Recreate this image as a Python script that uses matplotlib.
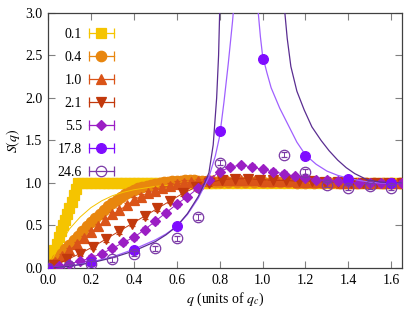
import numpy as np
import matplotlib
matplotlib.use('Agg')
import matplotlib.pyplot as plt
from matplotlib.lines import Line2D
from matplotlib.legend_handler import HandlerLine2D, HandlerTuple

plt.rcParams['font.family'] = ['Liberation Serif', 'DejaVu Serif']
plt.rcParams['mathtext.fontset'] = 'stix'
plt.rcParams['font.size'] = 10

# ---------------- data ----------------
labels = ['0.1', '0.4', '1.0', '2.1', '5.5', '17.8', '24.6']
colors = ['#f5c400', '#e8860e', '#da5418', '#c2390c', '#9b1ec4', '#7f0cff', '#7b3aa6']

# 0.1 (squares)
q_a = [0.00, 0.01, 0.02, 0.03, 0.04, 0.05, 0.06, 0.07, 0.08, 0.09, 0.10, 0.11, 0.12, 0.13, 0.14,
       0.16, 0.18, 0.20, 0.22, 0.24, 0.26, 0.28, 0.30, 0.32, 0.34, 0.36, 0.38, 0.40, 0.42, 0.44,
       0.46, 0.48, 0.50, 0.52, 0.54, 0.56, 0.58, 0.60, 0.62, 0.64, 0.66, 0.68, 0.70, 0.72, 0.74,
       0.76, 0.78, 0.80, 0.84, 0.88, 0.92, 0.96, 1.00, 1.04, 1.08, 1.12, 1.16, 1.20, 1.24, 1.28,
       1.32, 1.36, 1.40, 1.44, 1.48, 1.52, 1.56, 1.60, 1.64]
s_a = [0.00, 0.07, 0.14, 0.21, 0.28, 0.36, 0.43, 0.50, 0.57, 0.64, 0.71, 0.78, 0.86, 0.93, 1.00,
       1.00, 1.00, 1.00, 1.00, 1.00, 1.00, 1.00, 1.00, 1.00, 1.00, 1.00, 1.00, 1.00, 1.00, 1.00,
       1.00, 1.00, 1.00, 1.00, 1.00, 1.00, 1.00, 1.00, 1.00, 1.00, 1.00, 1.00, 1.00, 1.00, 1.00,
       1.00, 1.00, 1.00, 1.00, 1.00, 1.00, 1.00, 1.00, 1.00, 1.00, 1.00, 1.00, 1.00, 1.00, 1.00,
       1.00, 1.00, 1.00, 1.00, 1.00, 1.00, 1.00, 1.00, 1.00]

# 0.4 (circles)
q_b = [0.00, 0.02, 0.04, 0.06, 0.08, 0.10, 0.12, 0.14, 0.16, 0.18, 0.20, 0.22, 0.24, 0.26, 0.28,
       0.30, 0.32, 0.34, 0.36, 0.38, 0.40, 0.42, 0.44, 0.46, 0.48, 0.50, 0.52, 0.54, 0.56, 0.58,
       0.60, 0.62, 0.64, 0.66, 0.68, 0.70, 0.72, 0.74, 0.76, 0.78, 0.80, 0.84, 0.88, 0.92, 0.96,
       1.00, 1.04, 1.08, 1.12, 1.16, 1.20, 1.24, 1.28, 1.32, 1.36, 1.40, 1.44, 1.48, 1.52, 1.56,
       1.60, 1.64]
s_b = [0.00, 0.05, 0.11, 0.16, 0.22, 0.27, 0.33, 0.38, 0.43, 0.49, 0.54, 0.59, 0.64, 0.68, 0.73,
       0.77, 0.80, 0.84, 0.87, 0.89, 0.92, 0.94, 0.95, 0.97, 0.98, 0.99, 1.00, 1.01, 1.01, 1.02,
       1.02, 1.02, 1.03, 1.03, 1.03, 1.02, 1.02, 1.02, 1.02, 1.01, 1.01, 1.01, 1.01, 1.01, 1.01,
       1.01, 1.01, 1.01, 1.01, 1.00, 1.00, 1.00, 1.00, 1.00, 1.00, 1.00, 1.00, 1.00, 1.00, 1.00,
       1.00, 1.00]

# 1.0 (up triangles)
q_c = [0.033, 0.067, 0.100, 0.133, 0.167, 0.200, 0.233, 0.267, 0.300, 0.333, 0.367, 0.400,
       0.433, 0.467, 0.500, 0.533, 0.567, 0.600, 0.633, 0.667, 0.700, 0.733, 0.767, 0.800,
       0.833, 0.867, 0.900, 0.933, 0.967, 1.000, 1.033, 1.067, 1.100, 1.133, 1.167, 1.200,
       1.233, 1.267, 1.300, 1.333, 1.367, 1.400, 1.433, 1.467, 1.500, 1.533, 1.567, 1.600, 1.633]
s_c = [0.07, 0.14, 0.21, 0.28, 0.35, 0.42, 0.49, 0.56, 0.63, 0.68, 0.74, 0.80,
       0.84, 0.88, 0.91, 0.94, 0.97, 0.99, 1.00, 1.01, 1.02, 1.02, 1.03, 1.03,
       1.03, 1.03, 1.03, 1.03, 1.03, 1.02, 1.02, 1.02, 1.02, 1.02, 1.01, 1.01,
       1.01, 1.01, 1.01, 1.01, 1.00, 1.00, 1.00, 1.00, 1.00, 1.00, 1.00, 1.00, 1.00]

# 2.1 (down triangles)
q_d = [0.03, 0.09, 0.15, 0.21, 0.27, 0.33, 0.39, 0.45, 0.51, 0.57, 0.63, 0.69, 0.75, 0.81,
       0.87, 0.93, 0.99, 1.05, 1.11, 1.17, 1.23, 1.29, 1.35, 1.41, 1.47, 1.53, 1.59, 1.65]
s_d = [0.03, 0.10, 0.17, 0.25, 0.34, 0.43, 0.52, 0.61, 0.70, 0.79, 0.88, 0.95, 1.00, 1.04,
       1.05, 1.05, 1.04, 1.03, 1.03, 1.02, 1.02, 1.01, 1.01, 1.00, 1.00, 1.00, 1.00, 1.00]

# 5.5 (diamonds)
q_e = [0.05, 0.10, 0.15, 0.20, 0.25, 0.30, 0.35, 0.40, 0.45, 0.50, 0.55, 0.60, 0.65, 0.70,
       0.75, 0.80, 0.85, 0.90, 0.95, 1.00, 1.05, 1.10, 1.15, 1.20, 1.25, 1.30, 1.35, 1.40,
       1.45, 1.50, 1.55, 1.60, 1.65]
s_e = [0.02, 0.05, 0.08, 0.12, 0.17, 0.23, 0.30, 0.36, 0.45, 0.55, 0.65, 0.75, 0.84, 0.94,
       1.04, 1.13, 1.19, 1.21, 1.19, 1.16, 1.13, 1.11, 1.08, 1.06, 1.04, 1.03, 1.02, 1.01,
       1.00, 1.00, 1.00, 0.99, 1.00]

# 17.8 (filled circles)
q_f = [0.0, 0.2, 0.4, 0.6, 0.8, 1.0, 1.2, 1.4, 1.6]
s_f = [0.0, 0.07, 0.21, 0.49, 1.61, 2.46, 1.32, 1.05, 1.00]

# 24.6 (open circles)
q_g = [0.0, 0.1, 0.2, 0.3, 0.4, 0.5, 0.6, 0.7, 0.8, 0.9, 1.0, 1.1, 1.2, 1.3, 1.4, 1.5, 1.6]
s_g = [0.0, 0.02, 0.05, 0.10, 0.17, 0.23, 0.35, 0.60, 1.24, np.nan, np.nan, 1.33, 1.13,
       0.98, 0.945, 0.965, 0.945]

# fit curves
q_fit_a = [0.0, 0.05, 0.10, 0.15, 0.20, 0.25, 0.30, 0.35, 0.40, 0.50, 0.60, 0.70, 0.80, 1.00, 1.65]
s_fit_a = [0.0, 0.25, 0.46, 0.60, 0.71, 0.79, 0.85, 0.89, 0.92, 0.96, 0.98, 0.99, 1.00, 1.00, 1.00]
q_fit_b = [0.0, 0.10, 0.20, 0.30, 0.40, 0.50, 0.60, 0.70, 0.80, 1.65]
s_fit_b = [0.0, 0.22, 0.47, 0.70, 0.86, 0.95, 0.99, 1.00, 1.00, 1.00]

q_fit_f = [0.0, 0.1, 0.2, 0.3, 0.4, 0.5, 0.55, 0.6, 0.65, 0.7, 0.75, 0.78, 0.8, 0.82, 0.84,
           0.86, 0.87, 0.92, 0.975, 0.98, 0.99, 1.0, 1.02, 1.04, 1.08, 1.12, 1.16, 1.2, 1.25,
           1.3, 1.35, 1.4, 1.45, 1.5, 1.55, 1.65]
s_fit_f = [0.0, 0.02, 0.07, 0.13, 0.22, 0.33, 0.40, 0.49, 0.63, 0.82, 1.07, 1.32, 1.55, 1.95,
           2.4, 2.9, 3.2, np.nan, 3.2, 3.0, 2.72, 2.5, 2.3, 2.12, 1.88, 1.68, 1.48, 1.33, 1.22,
           1.14, 1.09, 1.055, 1.03, 1.01, 1.0, 1.0]
q_fit_g = [0.0, 0.1, 0.2, 0.3, 0.4, 0.5, 0.55, 0.6, 0.65, 0.7, 0.73, 0.75, 0.77, 0.786, 0.795,
           0.80, 0.805, 0.95, 1.10, 1.104, 1.115, 1.132, 1.16, 1.194, 1.23, 1.273, 1.31, 1.35,
           1.39, 1.43, 1.49, 1.55, 1.65]
s_fit_g = [0.0, 0.02, 0.06, 0.12, 0.20, 0.31, 0.39, 0.49, 0.64, 0.84, 1.0, 1.12, 1.45, 2.0, 2.5,
           3.0, 3.4, np.nan, 3.2, 3.0, 2.7, 2.37, 2.08, 1.86, 1.66, 1.5, 1.38, 1.27, 1.18, 1.11,
           1.035, 1.01, 1.0]

# ---------------- plot ----------------
fig = plt.figure(figsize=(4.15, 3.13), dpi=100)
ax = fig.add_axes([0.1157, 0.1438, 0.853, 0.8147])

ax.plot(q_fit_a, s_fit_a, color=colors[0], lw=0.7, zorder=3)
ax.plot(q_fit_b, s_fit_b, color='#f0a050', lw=0.7, zorder=1)
ax.plot(q_fit_f, s_fit_f, color='#a060ff', lw=0.9, zorder=6)
ax.plot(q_fit_g, s_fit_g, color='#5a2d91', lw=0.9, zorder=6)

series = [
    (q_a, s_a, 's', 6.8, True, 2),
    (q_b, s_b, 'o', 7.5, True, 2),
    (q_c, s_c, '^', 7.0, True, 4),
    (q_d, s_d, 'v', 7.0, True, 4),
    (q_e, s_e, 'D', 5.5, True, 5),
    (q_f, s_f, 'o', 7.0, True, 7),
    (q_g, s_g, 'o', 7.5, False, 8),
]
handles = []
hmap = {}
for i, (q, s, m, ms, filled, z) in enumerate(series):
    c = colors[i]
    ls = '-' if i in (2, 3, 4) else 'none'
    ax.errorbar(q, s, yerr=0.03, fmt=m, ms=ms, color=c, ecolor=c, elinewidth=0.7,
                capsize=2.5, capthick=0.7, ls=ls, lw=0.7,
                mfc=c if filled else 'none', mec=c, mew=0.9, zorder=z)
    cap = Line2D([], [], color=c, lw=0.9, marker='|', ms=7, mew=0.9)
    mk = Line2D([], [], color=c, ls='none', marker=m, ms=ms,
                mfc=c if filled else 'none', mec=c, mew=0.9)
    hmap[cap] = HandlerLine2D(numpoints=2, marker_pad=0.0)
    hmap[mk] = HandlerLine2D(numpoints=1)
    handles.append((cap, mk))
hmap[tuple] = HandlerTuple(ndivide=1, pad=0.0)

leg = ax.legend(handles, labels, handler_map=hmap, loc='upper left',
                bbox_to_anchor=(0.0, 0.98), markerfirst=False, frameon=False,
                handlelength=1.8, handletextpad=0.5, labelspacing=0.72,
                borderaxespad=0.3, fontsize=10)

ax.set_xlim(0, 1.65)
ax.set_ylim(0, 3.0)
ax.set_xticks(np.arange(0, 1.61, 0.2))
ax.set_yticks(np.arange(0, 3.01, 0.5))
ax.xaxis.set_major_formatter(plt.FormatStrFormatter('%.1f'))
ax.yaxis.set_major_formatter(plt.FormatStrFormatter('%.1f'))
ax.tick_params(direction='in', top=True, right=True, length=5, width=0.8,
               color='#808080', labelsize=10, pad=4)
for sp in ax.spines.values():
    sp.set_color('#404040')
    sp.set_linewidth(0.9)

ax.set_xlabel('$q$ (units of $q_c$)', fontsize=10, labelpad=3)
ax.set_ylabel('$S(q)$', fontsize=10, labelpad=2)

fig.savefig('out.png', dpi=100)
